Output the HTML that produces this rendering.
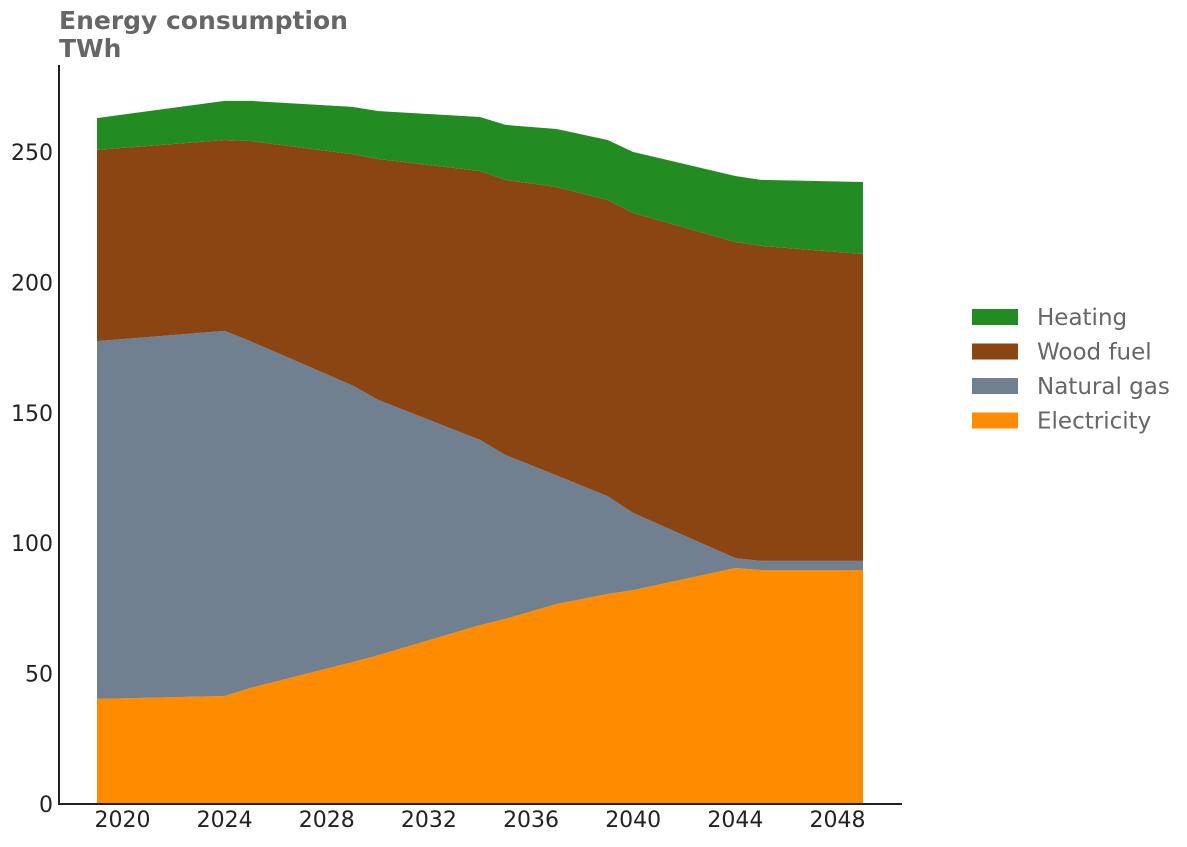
<!DOCTYPE html>
<html><head><meta charset="utf-8"><style>
body{margin:0;background:#fff;font-family:"Liberation Sans","DejaVu Sans",sans-serif;}
</style></head><body>
<svg id="chart" width="1187" height="842" xmlns="http://www.w3.org/2000/svg" font-family="DejaVu Sans, Liberation Sans, sans-serif">
<text x="59" y="29" font-size="25" font-weight="bold" fill="#666">Energy consumption</text>
<text x="59" y="57" font-size="25" font-weight="bold" fill="#666">TWh</text>
<g id="areas"></g>
<g id="axes"></g>
<g id="legend"></g>
</svg>
<script>
const years = [2019,2024,2025,2029,2030,2034,2035,2037,2039,2040,2044,2045,2049];
const electricity = [40.3,41.4,44.5,54.4,57,68.6,71,76.7,80.5,82,90.5,89.7,89.7];
const naturalGas = [137.2,140,133,106.1,98,71,62.8,49.3,37.5,29.6,3.8,3.5,3.5];
const woodFuel = [73.3,73.2,76.7,88.7,92.3,103.1,105.5,110.6,113.6,115,121.2,120.8,117.7];
const heating = [12.2,15,15.4,18.1,18.4,20.7,21.1,22.2,23,23.4,25.3,25.3,27.6];
const seriesNames = ["Electricity","Natural gas","Wood fuel","Heating"];
const seriesColors = ["#FF8C00","#708090","#8B4513","#228B22"];
const xTicks = [2020,2024,2028,2032,2036,2040,2044,2048];
const yTicks = [0,50,100,150,200,250];

const NS="http://www.w3.org/2000/svg";
const x = v => 97 + (v-2019)*(766/30);
const y = v => 804 - v*(652/250);
function mk(tag, attrs, parent){const e=document.createElementNS(NS,tag);for(const k in attrs)e.setAttribute(k,attrs[k]);parent.appendChild(e);return e;}

const series=[electricity,naturalGas,woodFuel,heating];
const areas=document.getElementById('areas');
let base=years.map(()=>0);
series.forEach((s,i)=>{
  const top=base.map((b,j)=>b+s[j]);
  let d='M'+years.map((yr,j)=>x(yr)+','+y(top[j])).join(' L');
  for(let j=years.length-1;j>=0;j--) d+=' L'+x(years[j])+','+y(base[j]);
  d+='Z';
  const p=mk('path',{d:d,fill:seriesColors[i]},areas);
  
  
  base=top;
});

const axes=document.getElementById('axes');
const ya=mk('line',{x1:59,y1:65,x2:59,y2:804,stroke:'#222','stroke-width':2},axes);


const xa=mk('line',{x1:58,y1:804,x2:902,y2:804,stroke:'#222','stroke-width':2},axes);


yTicks.forEach(v=>{
  const t=mk('text',{x:53,y:y(v)+8,'text-anchor':'end','font-size':22,fill:'#222'},axes);
  t.textContent=v;
  
  
});
xTicks.forEach(v=>{
  const t=mk('text',{x:x(v),y:827,'text-anchor':'middle','font-size':22,fill:'#222'},axes);
  t.textContent=v;
  
  
});

const legend=document.getElementById('legend');
for(let i=3;i>=0;i--){
  const row=3-i, yy=317+row*34.5;
  const g=mk('g',{},legend);
  
  
  mk('rect',{x:972,y:yy-8,width:46,height:16,fill:seriesColors[i]},g);
  const t=mk('text',{x:1037,y:yy+8,'font-size':23,fill:'#666'},g);
  t.textContent=seriesNames[i];
}
</script>
</body></html>
